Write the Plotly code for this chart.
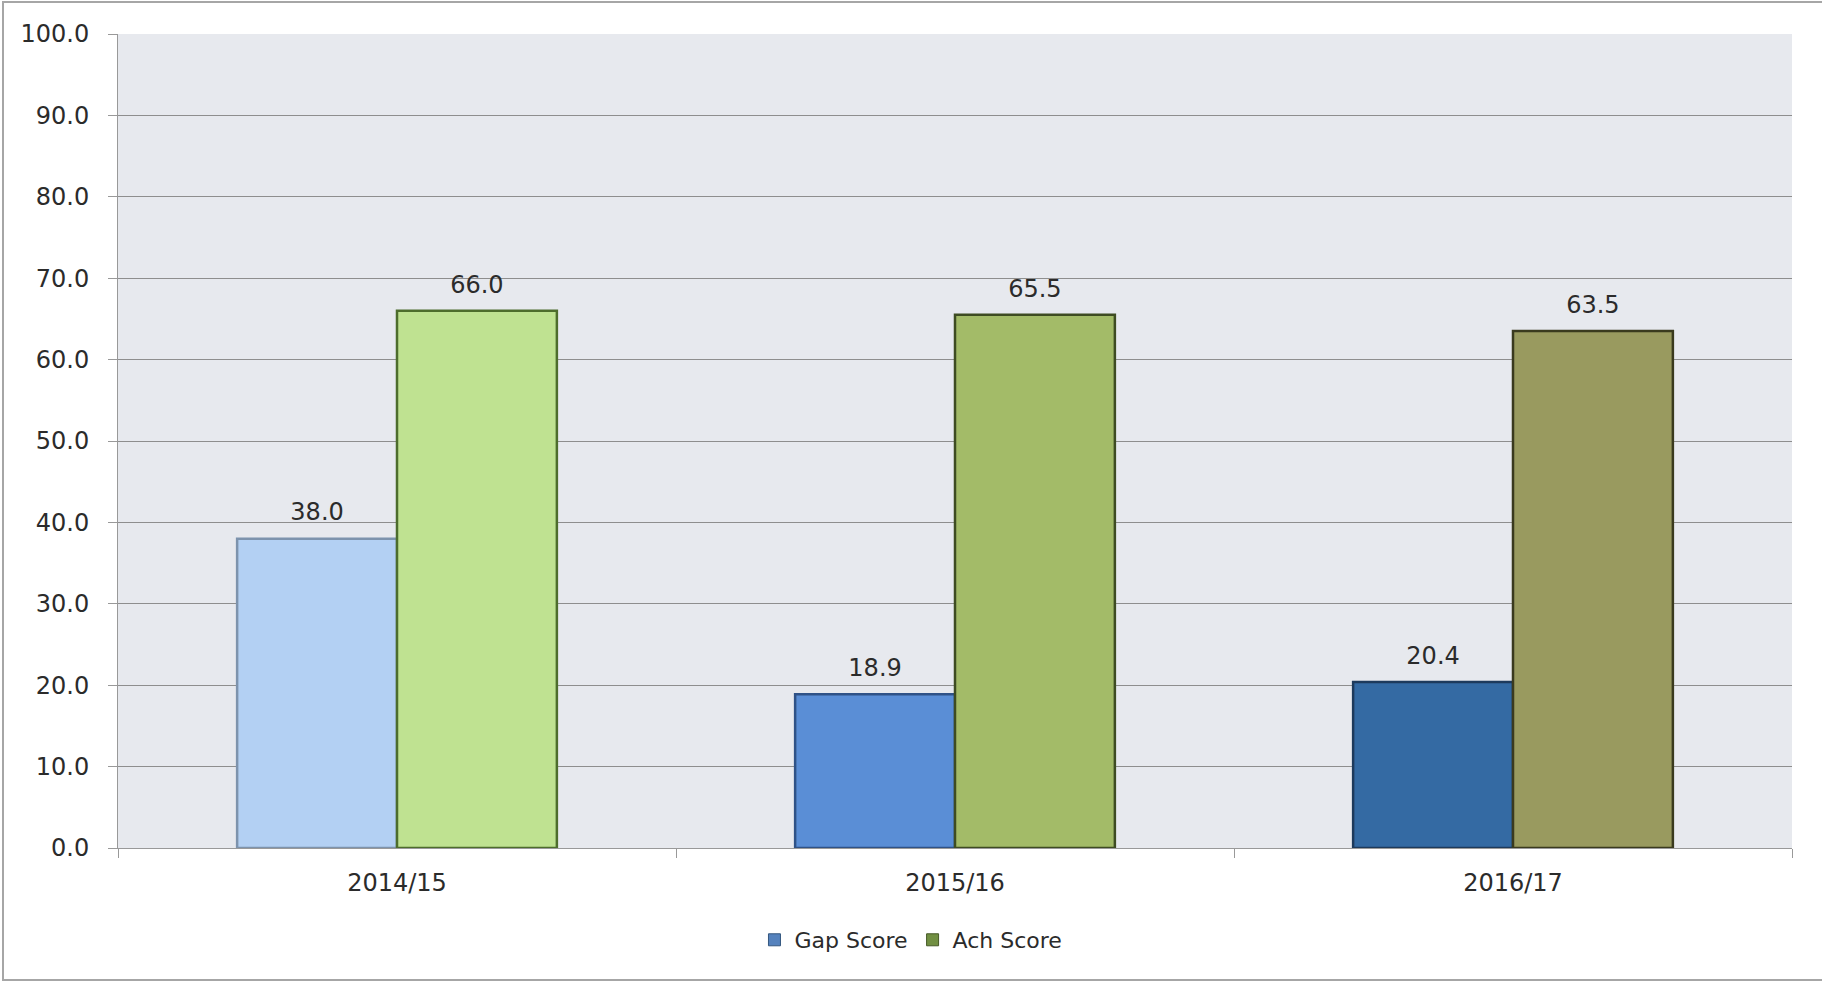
import plotly.graph_objects as go

categories = ["2014/15", "2015/16", "2016/17"]
gap_score = [38.0, 18.9, 20.4]
ach_score = [66.0, 65.5, 63.5]
y_ticks = [0, 10, 20, 30, 40, 50, 60, 70, 80, 90, 100]

gap_colors = ["#b3d0f3", "#5a8ed6", "#346aa3"]
gap_lines = ["#7d93ad", "#2f5287", "#1d3a5c"]
ach_colors = ["#bfe291", "#a3bb68", "#999a5f"]
ach_lines = ["#4d6d2c", "#3e4c22", "#3a3a1e"]

FONT = "Verdana, DejaVu Sans, sans-serif"
TXT = "#2b2b2b"

fig = go.Figure()

fig.add_trace(go.Bar(
    name="Gap Score", x=categories, y=gap_score, offsetgroup="gap",
    marker=dict(color=gap_colors, line=dict(color=gap_lines, width=2.5)),
    showlegend=False, hoverinfo="x+y",
))
fig.add_trace(go.Bar(
    name="Ach Score", x=categories, y=ach_score, offsetgroup="ach",
    marker=dict(color=ach_colors, line=dict(color=ach_lines, width=2.5)),
    showlegend=False, hoverinfo="x+y",
))

# value labels above bars (aligned with grouped bars)
for vals, grp in ((gap_score, "gap"), (ach_score, "ach")):
    fig.add_trace(go.Scatter(
        x=categories, y=vals, mode="markers+text", offsetgroup=grp,
        text=[f"{v:.1f}" for v in vals], textposition="top center",
        textfont=dict(family=FONT, size=24, color=TXT),
        marker=dict(size=18, opacity=0),
        showlegend=False, hoverinfo="skip", cliponaxis=False,
    ))

# legend entries
fig.add_trace(go.Bar(name="Gap Score", x=[None], y=[None], offsetgroup="gap",
                     marker=dict(color="#5582bd", line=dict(color="#34577f", width=1))))
fig.add_trace(go.Bar(name="Ach Score", x=[None], y=[None], offsetgroup="ach",
                     marker=dict(color="#718f42", line=dict(color="#465a26", width=1))))

fig.update_layout(
    barmode="group",
    bargap=0.427,
    bargroupgap=0,
    scattermode="group",
    scattergap=0.427,
    width=1822, height=981,
    margin=dict(l=118, r=30, t=34, b=133),
    paper_bgcolor="white",
    plot_bgcolor="#e7e9ee",
    font=dict(family=FONT, size=24, color=TXT),
    showlegend=True,
    legend=dict(
        orientation="h", x=0.4737, xanchor="center", y=-0.113, yanchor="middle",
        font=dict(family=FONT, size=22, color=TXT),
        bgcolor="rgba(0,0,0,0)",
    ),
    xaxis=dict(
        type="category",
        showgrid=False,
        showline=True, linecolor="#999999", linewidth=1,
        ticks="outside", tickson="boundaries", ticklen=9, tickcolor="#999999",
        ticklabelstandoff=13,
        tickfont=dict(family=FONT, size=24, color=TXT),
        fixedrange=True,
    ),
    yaxis=dict(
        range=[0, 100],
        tickvals=y_ticks,
        tickformat=".1f",
        showgrid=True, gridcolor="#8e8e8e", gridwidth=1,
        showline=True, linecolor="#999999", linewidth=1,
        ticks="outside", ticklen=9, tickcolor="#999999",
        ticklabelstandoff=14,
        tickfont=dict(family=FONT, size=24, color=TXT),
        zeroline=False,
        fixedrange=True,
    ),
    shapes=[dict(
        type="rect", xref="paper", yref="paper",
        x0=-0.0687, x1=1.06, y0=-0.1622, y1=1.0393,
        line=dict(color="#a6a6a6", width=2), fillcolor="rgba(0,0,0,0)",
        layer="below",
    )],
)

fig.write_html("out.html", config={"displayModeBar": False},
               post_script="document.body.style.margin='0';document.body.style.overflow='hidden';")
